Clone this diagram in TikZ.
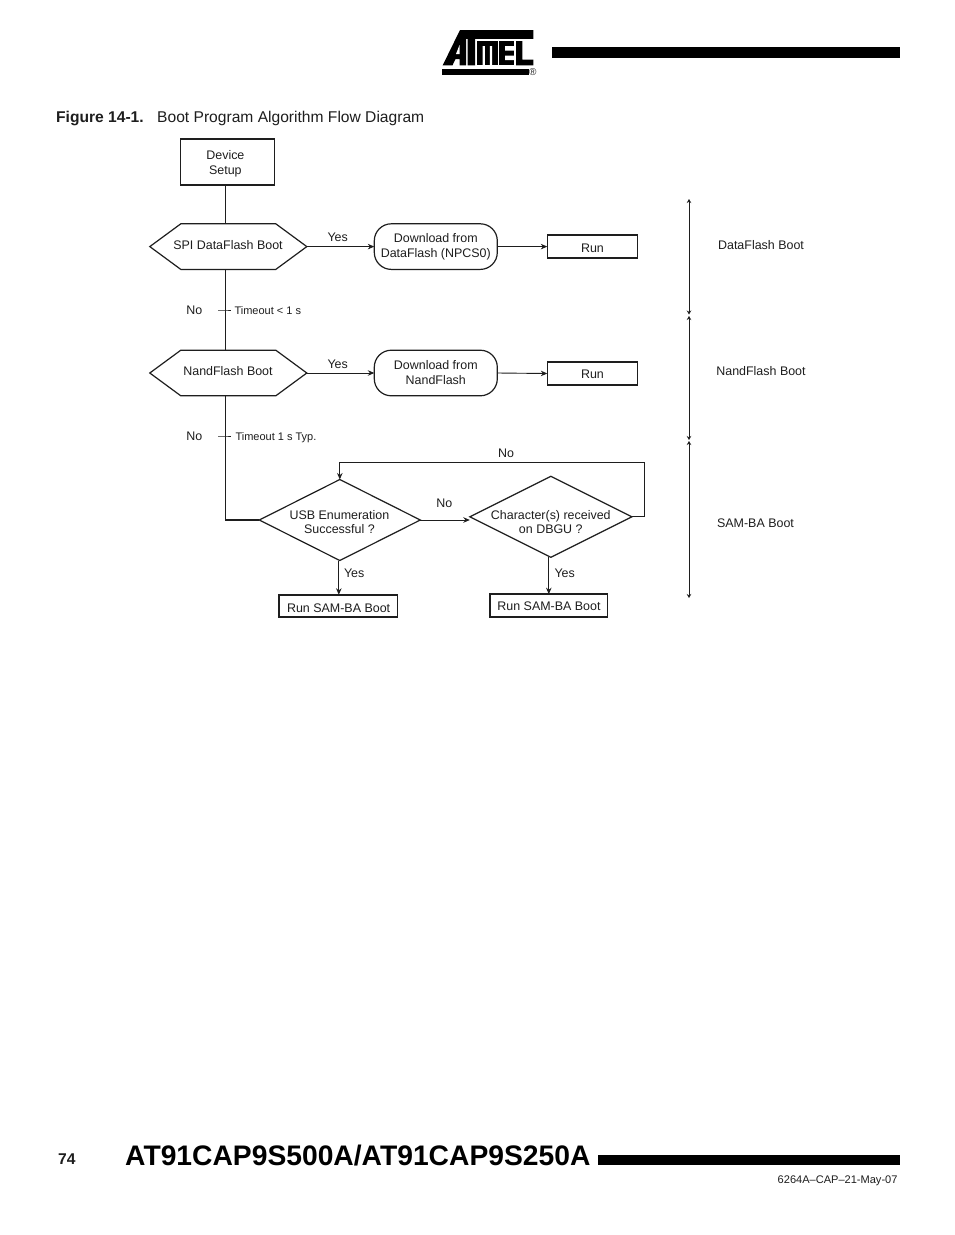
\documentclass[tikz,border=0pt]{standalone}
\usepackage{fontspec}
\setmainfont{Liberation Sans}
\usetikzlibrary{arrows.meta}
\newcommand\lbl[3]{\rlap{\hspace{#1pt}\makebox[0pt]{\raisebox{#2pt}[0pt][0pt]{\begin{tabular}[t]{@{}c@{}}#3\end{tabular}}}}}
\definecolor{ink}{HTML}{1E1E1E}
\tikzset{
  body/.style={font=\fontsize{12.45}{15}\selectfont,text=ink,inner sep=0pt,outer sep=0pt},
  tight/.style={font=\fontsize{12.45}{14.5}\selectfont,text=ink,inner sep=0pt,outer sep=0pt},
  note/.style={font=\fontsize{11}{13}\selectfont,text=ink,inner sep=0pt,outer sep=0pt,anchor=base west},
  txt/.style={body,anchor=base},
  stepbox/.style={body,draw=ink,line width=1.3pt,minimum width=#1},
  slab/.style={body,minimum width=157pt,minimum height=45.6pt},
  pill/.style={body,draw=ink,line width=1.2pt,rounded corners=17pt,minimum width=123pt,minimum height=45.6pt},
  rhomb/.style={tight,minimum width=161pt,minimum height=81pt},
  outline/.style={draw=ink,line width=1.2pt},
  flow/.style={draw=ink,line width=0.9pt},
  spinel/.style={draw=ink,line width=1.5pt},
  arr/.style={flow,-{Stealth[length=6.5pt,width=5.5pt]}},
  span/.style={flow,{Stealth[length=4pt,width=4.5pt]}-{Stealth[length=4pt,width=4.5pt]}},
  heavy/.style={fill=black,draw=none},
}
\begin{document}
\begin{tikzpicture}[x=1pt,y=-1pt]
\useasboundingbox[fill=white] (0,0) rectangle (954,1235);
% logo
\fill[black] (460,30) -- (533.3,30) -- (533.3,38.8) -- (475,38.8) -- (475,65.3) -- (467.5,65.3) -- (467.5,38.8) -- (466,38.8) -- (466,65.3) -- (459.5,65.3) -- (459.5,59) -- (455.5,59) -- (452.5,65.3) -- (442.7,65.3) -- cycle;
\fill[white] (459.5,45) -- (459.5,54) -- (456,54) -- cycle;
\fill[black] (477,41) rectangle (497.5,65.3);
\fill[white] (482.5,46) rectangle (484.8,65.3) (489.8,46) rectangle (492,65.3);
\fill[black] (499.3,41) rectangle (514,65.3);
\fill[white] (505,46) rectangle (514,50.5) (505,55.5) rectangle (514,60);
\fill[black] (516,41) rectangle (522.3,65.3) (516,59.5) rectangle (533.3,65.3);
\fill[black] (441.5,69.3) rectangle (528.5,75.2);
\node[inner sep=0pt,font=\fontsize{10}{10}\selectfont,text=ink] (reg) at (532.8,72.4) {®};
\node[heavy,minimum width=348pt,minimum height=11.5pt,inner sep=0pt] (headbar) at (726,52.6) {};
% caption
\node[anchor=base west,inner sep=0pt,font=\fontsize{15.6}{18}\selectfont\bfseries,text=ink] (figno) at (56,122) {Figure 14-1.};
\node[anchor=base west,inner sep=0pt,font=\fontsize{15.6}{18}\selectfont,text=ink] (figtitle) at (157,122) {Boot Program Algorithm Flow Diagram};
% flow
\coordinate (spine) at (225.6,0);
\node[stepbox=93.5pt,minimum height=46pt] (dev) at (227.4,162) {\lbl{-2}{2.7}{Device\\Setup}};
\node[slab] (h1) at (228.3,246.6) {\lbl{-0.3}{-2.7}{SPI DataFlash Boot}};
\draw[outline] (h1.west) -- ([xshift=31pt]h1.north west) -- ([xshift=-31pt]h1.north east) -- (h1.east) -- ([xshift=-31pt]h1.south east) -- ([xshift=31pt]h1.south west) -- cycle;
\node[pill] (dl1) at (435.8,246.6) {\lbl{0}{3.9}{Download from\\DataFlash (NPCS0)}};
\node[stepbox=90.4pt,minimum height=23pt] (run1) at (592.5,246.6) {\lbl{0}{-5.7}{Run}};
\node[slab] (h2) at (228.3,373) {\lbl{-0.3}{-2.7}{NandFlash Boot}};
\draw[outline] (h2.west) -- ([xshift=31pt]h2.north west) -- ([xshift=-31pt]h2.north east) -- (h2.east) -- ([xshift=-31pt]h2.south east) -- ([xshift=31pt]h2.south west) -- cycle;
\node[pill] (dl2) at (435.8,373) {\lbl{0}{3.7}{Download from\\NandFlash}};
\node[stepbox=90.4pt,minimum height=23pt] (run2) at (592.5,373.5) {\lbl{0}{-5.3}{Run}};
\node[rhomb] (d1) at (339.8,520) {\lbl{-0.4}{1}{USB Enumeration\\Successful ?}};
\draw[outline] (d1.west) -- (d1.north) -- (d1.east) -- (d1.south) -- cycle;
\node[rhomb,minimum width=162pt] (d2) at (550.8,516.8) {\lbl{0}{-2.3}{Character(s) received\\on DBGU ?}};
\draw[outline] (d2.west) -- (d2.north) -- (d2.east) -- (d2.south) -- cycle;
\node[stepbox=118.5pt,minimum height=22.5pt,line width=1.7pt] (sam1) at (338.2,606) {\lbl{0.4}{-6}{Run SAM-BA Boot}};
\node[stepbox=117.5pt,minimum height=22.5pt,line width=1.7pt] (sam2) at (548.7,605.4) {\lbl{0.3}{-5}{Run SAM-BA Boot}};
% connectors
\draw[spinel] (dev.south -| spine) -- (h1.north -| spine);
\draw[spinel] (h1.south -| spine) -- (h2.north -| spine);
\draw[spinel] (h2.south -| spine) -- (d1.west -| spine) -- (d1.west);
\draw[arr] (h1.east) -- (dl1.west);
\draw[arr] (dl1.east) -- (run1.west);
\draw[arr] (h2.east) -- (dl2.west);
\draw[arr] (dl2.east) -- (run2.west);
\draw[arr] (d1.east) -- (d2.west |- d1.east);
\coordinate (loopR) at (644.5,462.5);
\draw[arr] (d2.east) -- (d2.east -| loopR) -- (loopR) -- (loopR -| d1.north) -- (d1.north);
\draw[arr] ([xshift=-1pt]d1.south) -- ([xshift=-1pt]d1.south |- sam1.north);
\draw[arr] ([xshift=-2pt]d2.south) -- ([xshift=-2pt]d2.south |- sam2.north);
\coordinate (tickA) at (218,310);
\coordinate (tickB) at (218,436);
\draw[flow] (tickA) -- (tickA -| spine) -- ++(5.5,0);
\draw[flow] (tickB) -- (tickB -| spine) -- ++(5.5,0);
% labels
\node[txt] (y1) at (337.7,241) {Yes};
\node[txt] (y2) at (337.7,368) {Yes};
\node[txt] (n1) at (194.3,314) {No};
\node[txt] (n2) at (194.3,440.3) {No};
\node[note] (t1) at (234.5,314.3) {Timeout < 1 s};
\node[note] (t2) at (235.5,440.4) {Timeout 1 s Typ.};
\node[txt] (n3) at (506,457) {No};
\node[txt] (n4) at (444.3,507) {No};
\node[txt,anchor=base west] (y3) at (344,577) {Yes};
\node[txt,anchor=base west] (y4) at (554.5,577) {Yes};
% span
\coordinate (s0) at (689,199);
\coordinate (s1) at (689,314.5);
\coordinate (s2) at (689,316);
\coordinate (s3) at (689,440);
\coordinate (s4) at (689,441);
\coordinate (s5) at (689,598);
\draw[span] (s0) -- (s1);
\draw[span] (s2) -- (s3);
\draw[span] (s4) -- (s5);
\node[txt] (r1) at (761,249) {DataFlash Boot};
\node[txt] (r2) at (761,375) {NandFlash Boot};
\node[txt] (r3) at (755.5,527) {SAM-BA Boot};
% footer
\node[anchor=base west,inner sep=0pt,font=\fontsize{15.6}{18}\selectfont\bfseries,text=ink] (pg) at (58,1164.7) {74};
\node[anchor=base west,inner sep=0pt,font=\fontsize{28.25}{32}\selectfont\bfseries,text=black] (doc) at (125,1165.3) {AT91CAP9S500A/AT91CAP9S250A};
\node[heavy,minimum width=302pt,minimum height=10pt,inner sep=0pt] (footbar) at (749,1160) {};
\node[anchor=base east,inner sep=0pt,font=\fontsize{11.05}{13}\selectfont,text=ink] (code) at (897.7,1183.3) {6264A–CAP–21-May-07};
\end{tikzpicture}
\end{document}
